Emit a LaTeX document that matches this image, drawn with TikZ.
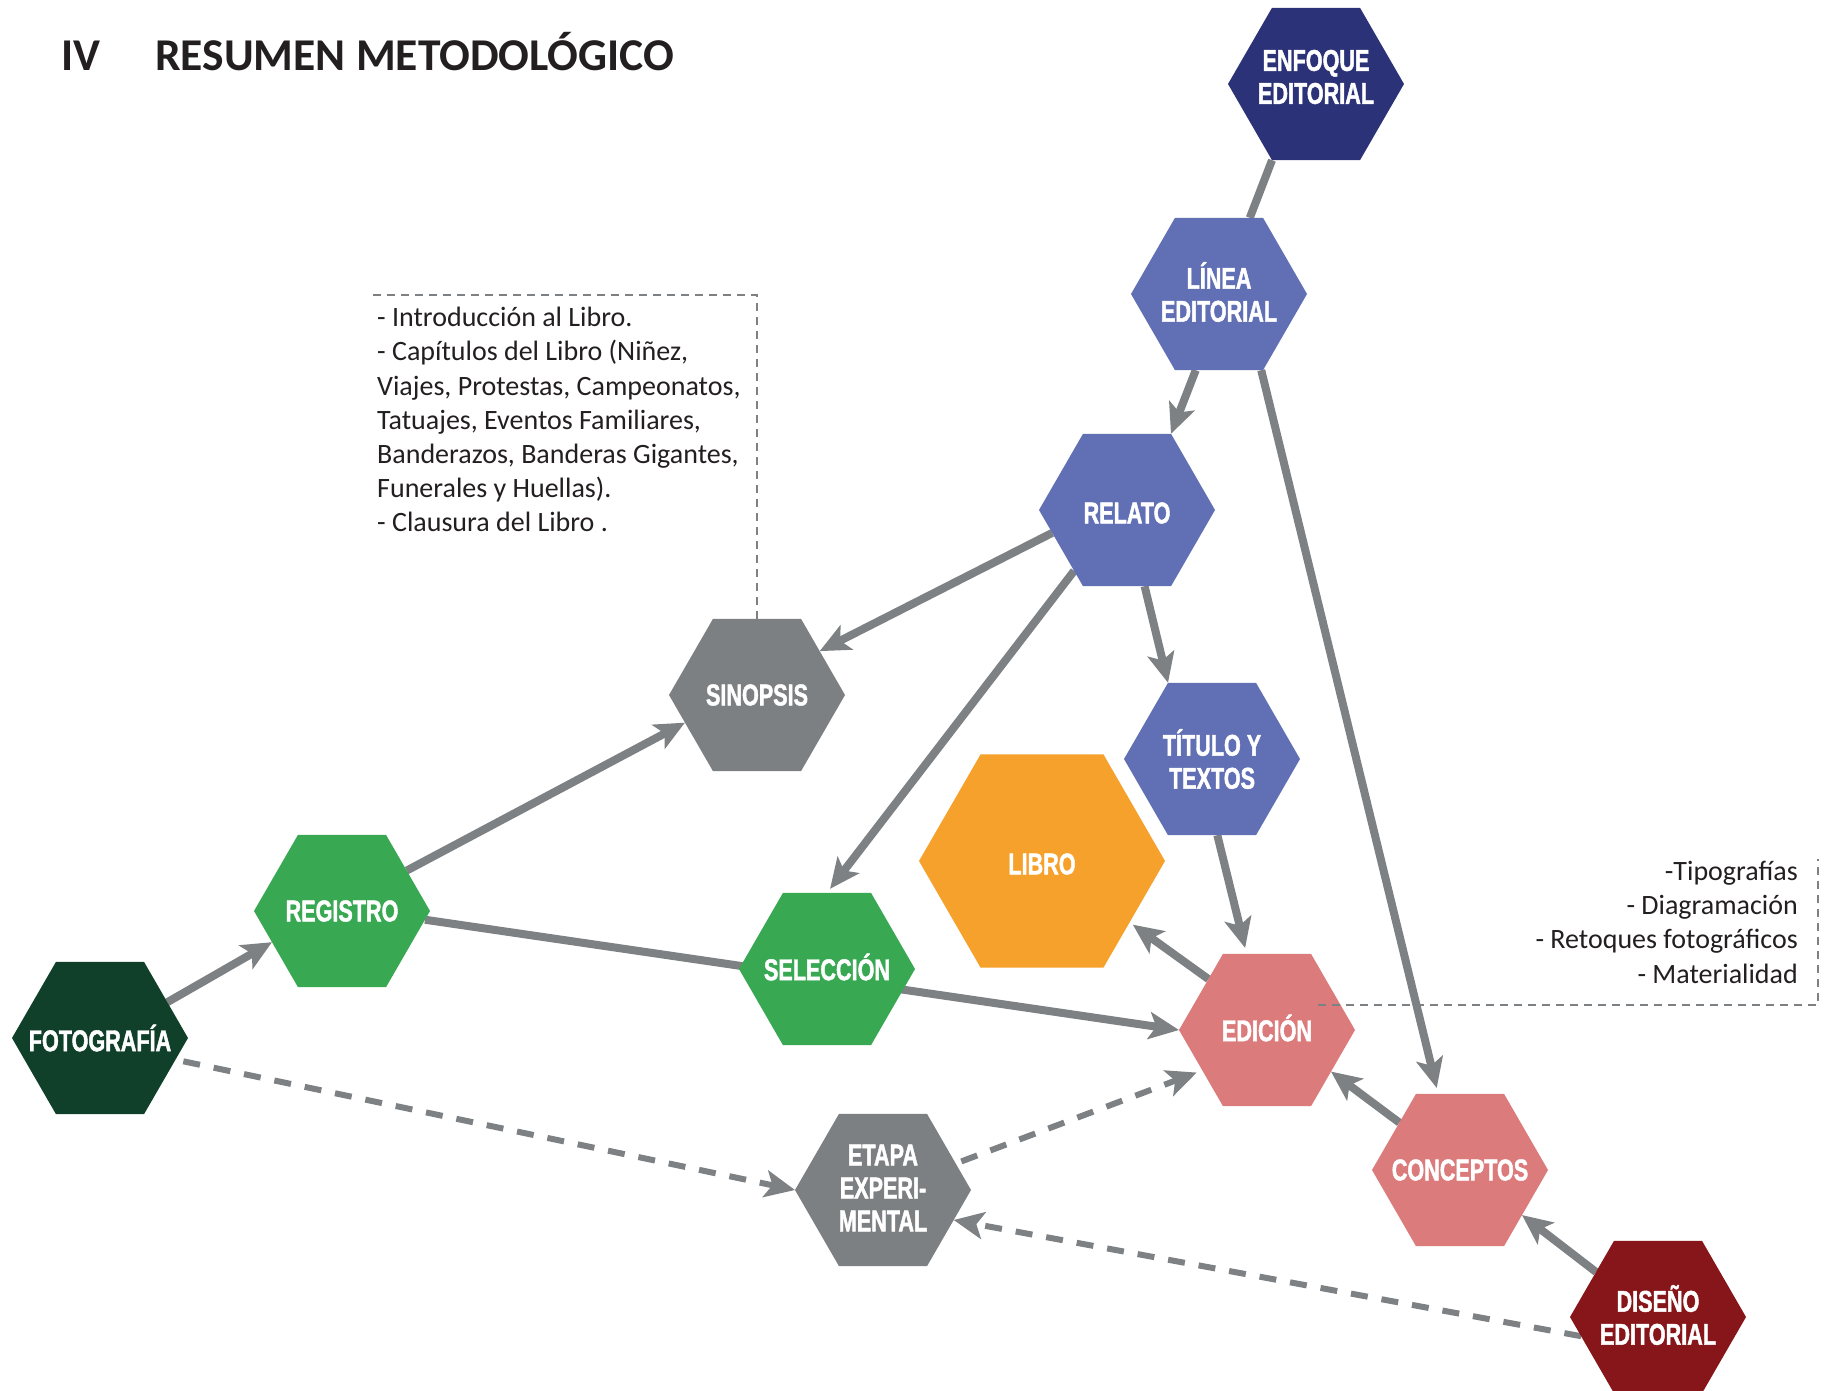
\documentclass[tikz,border=0pt]{standalone}
\usepackage{fontspec}
\setmainfont{Carlito}
\newfontfamily\hexfont[FakeStretch=0.72, BoldFeatures={FakeBold=1.5}]{Liberation Sans}
\usetikzlibrary{shapes.geometric,arrows.meta}
\pgfdeclarelayer{background}
\pgfdeclarelayer{backdrop}
\pgfsetlayers{backdrop,background,main}
\definecolor{cnavy}{HTML}{2B3277}
\definecolor{cblue}{HTML}{6170B5}
\definecolor{cgraynode}{HTML}{7D8083}
\definecolor{corange}{HTML}{F6A12B}
\definecolor{cgreen}{HTML}{39A853}
\definecolor{cdkgreen}{HTML}{10402A}
\definecolor{csalmon}{HTML}{DB7B7B}
\definecolor{cdkred}{HTML}{861619}
\definecolor{cline}{HTML}{7D8183}
\definecolor{ctext}{HTML}{231F20}
\tikzset{
  hexnode/.style={regular polygon, regular polygon sides=6, minimum size=176pt,
    inner sep=0pt, outer sep=0pt, draw=none, fill=#1},
  hexlabel/.style={text=white, font=\hexfont\bfseries\fontsize{30}{33}\selectfont,
    align=center, inner sep=0pt},
  tipstyle/.style={-{Stealth[length=30pt,width=27pt,inset=7pt]}},
  conn/.style={draw=cline, line width=8pt, tipstyle},
  plainconn/.style={draw=cline, line width=8pt},
  dconn/.style={draw=cline, line width=6pt, dash pattern=on 17pt off 14pt, tipstyle},
  notebox/.style={draw=cline, line width=2pt, dash pattern=on 8pt off 6pt},
  notetext/.style={font=\fontsize{28}{34.2}\selectfont, text=ctext, inner sep=0pt},
  titletext/.style={font=\bfseries\fontsize{45.5}{50}\selectfont, text=ctext, inner sep=0pt, anchor=base west},
}
\begin{document}
\begin{tikzpicture}[x=1pt,y=-1pt]
\begin{pgfonlayer}{backdrop}
\fill[white] (0,0) rectangle (1826,1390);
\end{pgfonlayer}
\useasboundingbox (0,0) rectangle (1826,1390);

% title
\node[titletext] (tnum) at (61,70) {IV};
\node[titletext] (title) at (155,70) {RESUMEN METODOLÓGICO};

% hexagons
\node[hexnode=cnavy, label={[hexlabel, yshift=7pt]center:{ENFOQUE\\EDITORIAL}}] (enf) at (1316,84) {};
\node[hexnode=cblue, label={[hexlabel, yshift=2pt]center:{LÍNEA\\EDITORIAL}}] (lin) at (1219,294) {};
\node[hexnode=cblue, label={[hexlabel, yshift=-3pt]center:{RELATO}}] (rel) at (1127,510) {};
\node[hexnode=cgraynode, label={[hexlabel]center:{SINOPSIS}}] (sin) at (757,695) {};
\node[hexnode=cblue, label={[hexlabel]center:{TÍTULO Y\\TEXTOS}}] (tit) at (1212,759) {};
\node[hexnode=corange, minimum size=246pt, label={[hexlabel, yshift=-3pt]center:{LIBRO}}] (lib) at (1042,861) {};
\node[hexnode=cgreen, label={[hexlabel]center:{REGISTRO}}] (reg) at (342,911) {};
\node[hexnode=cgreen, label={[hexlabel, yshift=2pt]center:{SELECCIÓN}}] (sel) at (827,969) {};
\node[hexnode=cdkgreen, label={[hexlabel]center:{FOTOGRAFÍA}}] (fot) at (100,1038) {};
\node[hexnode=csalmon, label={[hexlabel, yshift=2pt]center:{EDICIÓN}}] (edi) at (1267,1030) {};
\node[hexnode=cgraynode, label={[hexlabel, yshift=2pt]center:{ETAPA\\EXPERI-\\MENTAL}}] (eta) at (883,1190) {};
\node[hexnode=csalmon, label={[hexlabel]center:{CONCEPTOS}}] (con) at (1460,1170) {};
\node[hexnode=cdkred, label={[hexlabel, yshift=2pt]center:{DISEÑO\\EDITORIAL}}] (dis) at (1658,1317) {};

% notes
\node[notetext, align=left, anchor=north west] (note1) at (377,307)
  {- Introducción al Libro.\\- Capítulos del Libro (Niñez,\\Viajes, Protestas, Campeonatos,\\Tatuajes, Eventos Familiares,\\Banderazos, Banderas Gigantes,\\Funerales y Huellas).\\- Clausura del Libro .};
\node[notetext, align=right, anchor=north east] (note2) at (1798,861)
  {-Tipografías\\- Diagramación\\- Retoques fotográficos\\- Materialidad};

\coordinate (n1corner) at (373,295);
\draw[notebox] (n1corner) -| (sin.north);
\coordinate (n2start) at (1318,1005);
\coordinate (n2top) at (1818,859);
\draw[notebox] (n2start) -| (n2top);

% connectors
\begin{pgfonlayer}{background}
\draw[plainconn] (enf.240) -- (lin.68);
\draw[conn] (lin.253) -- (rel.60);
\draw[conn, shorten >=6pt] (lin.299) -- (con.106);
\draw[conn] (rel.197) -- (sin.35);
\draw[conn, shorten >=5pt] (rel.229) -- (sel.90);
\draw[conn] (rel.283) -- (tit.120);
\draw[conn, shorten >=6pt] (tit.274) -- (edi.105);
\draw[conn, shorten >=4pt] (edi.139) -- (lib.325);
\draw[conn] (con.142) -- (edi.327);
\draw[conn] (dis.144) -- (con.324);
\draw[conn] (fot.28) -- (reg.204);
\draw[conn] (reg.32) -- (sin.201);
\draw[conn] (reg.354) -- (edi.180);
\draw[dconn, shorten <=8pt] (fot.344) -- (eta.180);
\draw[dconn, shorten <=6pt, shorten >=6pt] (eta.20) -- (edi.212);
\draw[dconn] (dis.194) -- (eta.337);
\end{pgfonlayer}
\end{tikzpicture}
\end{document}
